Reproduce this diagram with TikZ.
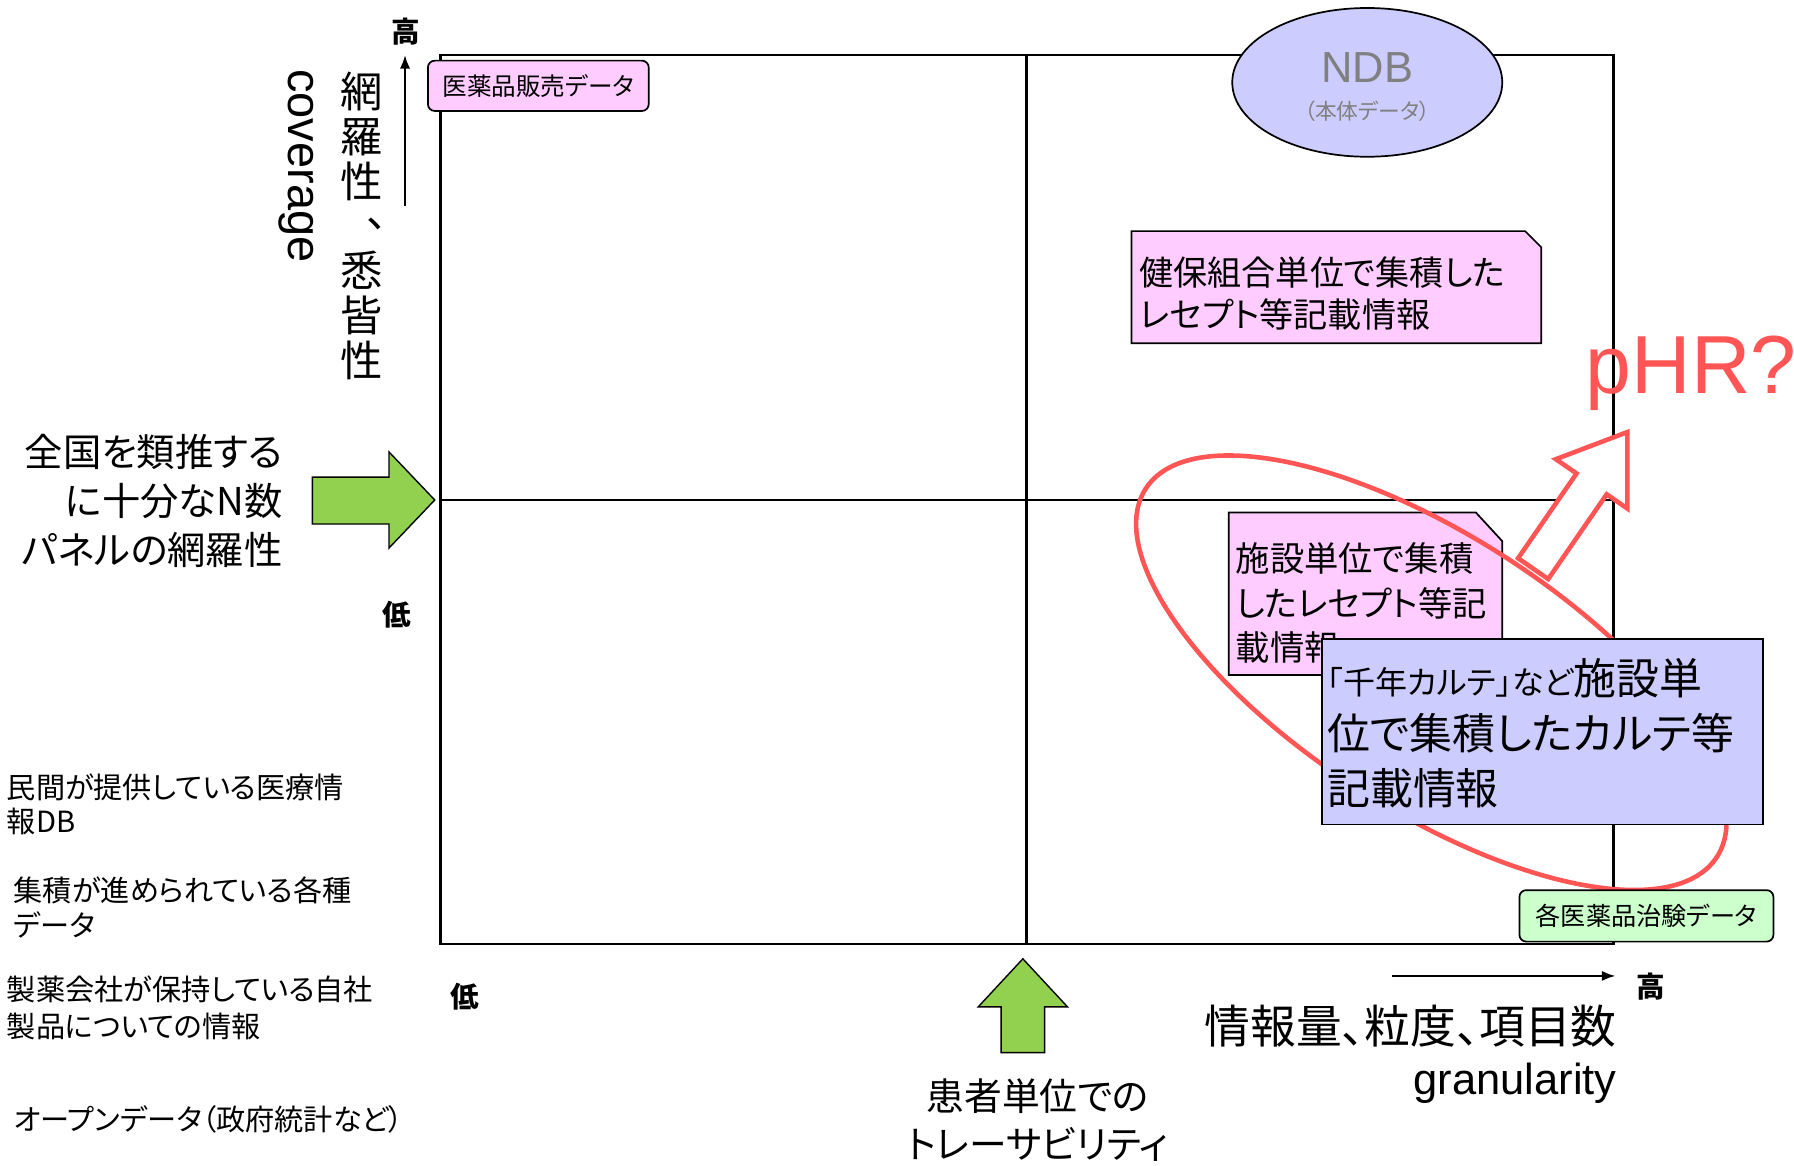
\documentclass[tikz,border=0pt]{standalone}
\usepackage{fontspec}
\setmainfont{Noto Sans CJK JP}[RawFeature=+palt]
\newfontfamily\lat{Liberation Sans}
\usetikzlibrary{shapes.geometric,arrows.meta}
\definecolor{pinkf}{RGB}{255,204,255}
\definecolor{bluef}{RGB}{204,204,255}
\definecolor{greenf}{RGB}{204,255,204}
\definecolor{arrowg}{RGB}{146,208,80}
\definecolor{redl}{RGB}{255,85,85}
\definecolor{ndbtxt}{RGB}{128,128,128}
\newcommand\fsz[2]{\fontsize{#1}{#2}\selectfont}
\begin{document}
\begin{tikzpicture}[x=1pt,y=-1pt,
  lbl/.style={inner sep=0pt, outer sep=0pt},
  gridline/.style={draw=black, line width=2.2pt},
  boxline/.style={draw=black, line width=1.5pt},
  pinkrbox/.style={boxline, fill=pinkf, rounded corners=6pt, inner sep=0pt},
  greenrbox/.style={boxline, fill=greenf, rounded corners=6pt, inner sep=0pt},
  bluebox/.style={boxline, fill=bluef, inner sep=0pt},
  ndbshape/.style={ellipse, draw=black, line width=1.5pt, fill=bluef, inner sep=0pt},
  redline/.style={draw=redl, line width=4pt},
  greenarrow/.style={draw=black, line width=1.2pt, fill=arrowg, line join=miter},
  axisarrow/.style={line width=2pt, -{Latex[length=12pt, width=9pt]}}]
\useasboundingbox (0,0) rectangle (1568,1019);

% main grid
\coordinate (TL) at (385,48);
\coordinate (BR) at (1410,825);
\coordinate (MT) at (897,48);
\coordinate (MB) at (897,825);
\coordinate (ML) at (385,437);
\coordinate (MR) at (1410,437);
\draw[gridline] (TL) rectangle (BR);
\draw[gridline] (MT) -- (MB);
\draw[gridline] (ML) -- (MR);

% boxes on the frame
\node[pinkrbox, minimum width=193pt, minimum height=44pt, font={\fsz{21.5}{21.5}}] (sales) at (470.5,75) {医薬品販売データ};
\node[ndbshape, minimum width=236pt, minimum height=130pt] (ndb) at (1195,72) {};
\node[lbl, text=ndbtxt, font={\lat\fsz{38}{38}}] (ndbt) at (1195,59) {NDB};
\node[lbl, text=ndbtxt, font={\fsz{19}{19}}] (ndbs) at (1195,97) {（本体データ）};

% kenpo box
\draw[boxline, fill=pinkf] (989,202) -- (1333,202) -- (1347,216) -- (1347,300) -- (989,300) -- cycle;
\node[lbl, anchor=west, align=left, font={\fsz{29.8}{37}}] (kenpo) at (996,256.5) {健保組合単位で集積した\\レセプト等記載情報};

% shisetsu box
\draw[boxline, fill=pinkf] (1074,448) -- (1290,448) -- (1313,473) -- (1313,590) -- (1074,590) -- cycle;
\node[lbl, anchor=west, align=left, font={\fsz{30}{39}}] (shisetsu) at (1080,527) {施設単位で集積\\したレセプト等記\\載情報};

% red ellipse
\draw[redline, rotate around={-32.8:(1251,588)}] (1251,588) ellipse [x radius=297pt, y radius=120pt];

% red hollow arrow
\coordinate (phrbase) at (1340,497);
\begin{scope}[shift={(phrbase)}, rotate=55.4]
\draw[redline, fill=white, line join=miter] (0,-16) -- (90,-16) -- (90,-38) -- (145,0) -- (90,38) -- (90,16) -- (0,16) -- cycle;
\end{scope}

% blue box
\node[bluebox, anchor=north west, minimum width=385pt, minimum height=162pt] (karte) at (1155,558) {};
\node[lbl, anchor=west, align=left, font={\fsz{37.5}{48}}] (kartet) at (1160,641) {{\fsz{28}{48}「千年カルテ」など}施設単\\位で集積したカルテ等\\記載情報};

% green box
\node[greenrbox, minimum width=222pt, minimum height=45pt, font={\fsz{22}{22}}] (trial) at (1439,800.5) {各医薬品治験データ};

% pHR?
\node[lbl, text=redl, font={\lat\fsz{72}{72}}] (phr) at (1478,326) {pHR?};

% green arrows
\draw[greenarrow] (273,417) -- (340,417) -- (340,395) -- (380,437) -- (340,479) -- (340,458) -- (273,458) -- cycle;
\draw[greenarrow] (875,920) -- (875,880) -- (855,880) -- (894,838) -- (933,880) -- (913,880) -- (913,920) -- cycle;

% axis arrows
\coordinate (ya0) at (354,180);
\coordinate (ya1) at (354,48);
\draw[axisarrow] (ya0) -- (ya1);
\coordinate (xa0) at (1217,853);
\coordinate (xa1) at (1412,853);
\draw[axisarrow] (xa0) -- (xa1);

% axis labels
\node[lbl, font={\fsz{25}{25}\bfseries}] (yhi) at (355,28) {高};
\node[lbl, font={\fsz{25}{25}\bfseries}] (ylo) at (347,537) {低};
\node[lbl, font={\fsz{25}{25}\bfseries}] (xlo) at (406,871) {低};
\node[lbl, font={\fsz{25}{25}\bfseries}] (xhi) at (1443,862) {高};

% vertical axis title
\node[lbl, align=center, font={\fsz{37}{39.3}}] (cov1) at (316,119) {網\\羅\\性};
\node[lbl, font={\fsz{37}{37}}] (comma) at (330,196) {、};
\node[lbl, align=center, font={\fsz{37}{39.3}}] (cov2) at (316,276) {悉\\皆\\性};
\node[lbl, rotate=-90, font={\lat\fsz{41}{41}}] (coveng) at (259,145) {coverage};

% left texts
\node[lbl, anchor=east, align=right, font={\fsz{33.5}{43}}] (zenkoku) at (247,438) {全国を類推する\\に十分なN数\\パネルの網羅性};
\node[lbl, anchor=west, align=left, font={\fsz{25.5}{30}}] (lt1) at (6,703) {民間が提供している医療情\\報DB};
\node[lbl, anchor=west, align=left, font={\fsz{25.5}{30}}] (lt2) at (12,793) {集積が進められている各種\\データ};
\node[lbl, anchor=west, align=left, font={\fsz{25.5}{32}}] (lt3) at (6,881) {製薬会社が保持している自社\\製品についての情報};
\node[lbl, anchor=west, font={\fsz{25.5}{30}}] (lt4) at (12,978) {オープンデータ（政府統計など）};

% bottom texts
\node[lbl, align=center, font={\fsz{33}{42}}] (trace) at (907,979) {患者単位での\\トレーサビリティ};
\node[lbl, anchor=east, font={\fsz{40}{40}}] (gran1) at (1413,897) {情報量、粒度、項目数};
\node[lbl, anchor=east, font={\lat\fsz{38}{38}}] (gran2) at (1413,947) {granularity};
\end{tikzpicture}
\end{document}
